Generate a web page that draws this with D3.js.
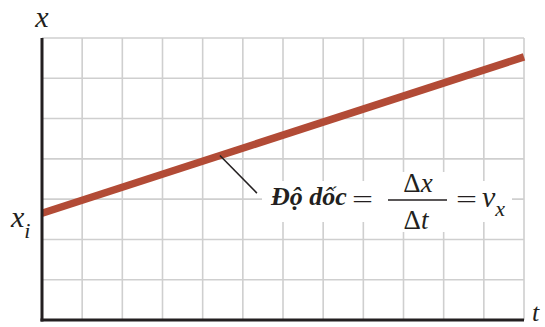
<!DOCTYPE html>
<html>
<head>
<meta charset="utf-8">
<script src="https://cdn.jsdelivr.net/npm/d3@7"></script>
</head>
<body style="margin:0;background:#fff">
<svg id="fig" width="545" height="327" style="display:block"></svg>
<script>
// ---- data ----
const tValues = [0, 12];          // time at the two ends of the line
const xValues = [2.65, 6.53];     // position at the two ends of the line
const tTicks = d3.range(0, 13);   // vertical grid lines
const xTicks = d3.range(0, 8);    // horizontal grid lines
const leaderFrom = [4.43, 0];     // t on the line where the leader starts
const leaderTo = [5.35, 3.15];    // (t, x) where the leader ends
const labelText = "Độ dốc";
const axisLabelY = "x";
const axisLabelX = "t";
const interceptLabel = ["x", "i"];

// ---- layout ----
const W = 545, H = 327;
const FONT = "Liberation Serif";
const INK = "#231f20";
const m = { left: 42, right: 21, top: 38, bottom: 7 };
const svg = d3.select("#fig");

const tScale = d3.scaleLinear().domain([0, 12]).range([m.left, W - m.right]);
const xScale = d3.scaleLinear().domain([0, 7]).range([H - m.bottom, m.top]);

const lineAt = t => xValues[0] + (xValues[1] - xValues[0]) * (t - tValues[0]) / (tValues[1] - tValues[0]);

function txt(x, y, size) {
  return svg.append("text")
    .attr("x", x).attr("y", y)
    .attr("font-family", FONT)
    .style("font-family", FONT, "important")
    .attr("font-size", size)
    .attr("fill", INK);
}

// grid
const grid = svg.append("g").attr("stroke", "#cfcfcf").attr("stroke-width", 1.6);
grid.selectAll("line.v").data(tTicks.slice(1)).join("line")
  .attr("x1", d => tScale(d)).attr("x2", d => tScale(d))
  .attr("y1", xScale(0)).attr("y2", xScale(7));
grid.selectAll("line.h").data(xTicks.slice(1)).join("line")
  .attr("x1", tScale(0)).attr("x2", tScale(12))
  .attr("y1", d => xScale(d)).attr("y2", d => xScale(d));

// data line
const line = d3.line().x(d => tScale(d[0])).y(d => xScale(d[1]));
svg.append("path")
  .datum(tValues.map((t, i) => [t, xValues[i]]))
  .attr("d", line)
  .attr("fill", "none")
  .attr("stroke", "#b24b36")
  .attr("stroke-width", 7.5);

// axes
svg.append("line")
  .attr("x1", tScale(0)).attr("x2", tScale(0))
  .attr("y1", xScale(7)).attr("y2", xScale(0) + 1.5)
  .attr("stroke", INK).attr("stroke-width", 3);
svg.append("line")
  .attr("x1", tScale(0) - 1.5).attr("x2", tScale(12))
  .attr("y1", xScale(0)).attr("y2", xScale(0))
  .attr("stroke", INK).attr("stroke-width", 3);

// white box behind slope label
svg.append("rect")
  .attr("x", 262).attr("y", 181).attr("width", 250).attr("height", 41)
  .attr("fill", "#fff");
svg.append("rect")
  .attr("x", 384).attr("y", 172).attr("width", 66).attr("height", 60)
  .attr("fill", "#fff");

// leader line
svg.append("line")
  .attr("x1", tScale(leaderFrom[0])).attr("y1", xScale(lineAt(leaderFrom[0])))
  .attr("x2", tScale(leaderTo[0])).attr("y2", xScale(leaderTo[1]))
  .attr("stroke", INK).attr("stroke-width", 1.5);

// slope label
txt(271, 205, 26)
  .attr("font-weight", "bold").attr("font-style", "italic")
  .text(labelText);
txt(352, 208, 26)
  .attr("textLength", 21).attr("lengthAdjust", "spacingAndGlyphs")
  .text("=");
svg.append("line")
  .attr("x1", 388).attr("x2", 447).attr("y1", 200).attr("y2", 200)
  .attr("stroke", INK).attr("stroke-width", 1.6);
const num = txt(418, 192, 27).attr("text-anchor", "middle");
num.append("tspan").text("Δ");
num.append("tspan").attr("font-style", "italic").text("x");
const den = txt(416, 229, 27).attr("text-anchor", "middle");
den.append("tspan").text("Δ");
den.append("tspan").attr("font-style", "italic").text("t");
txt(456, 208, 26)
  .attr("textLength", 21).attr("lengthAdjust", "spacingAndGlyphs")
  .text("=");
const vx = txt(482, 207, 30).attr("font-style", "italic");
vx.append("tspan").text("v");
vx.append("tspan").attr("font-size", 22).attr("dy", 9).text("x");

// axis labels
txt(tScale(0), 27, 30).attr("text-anchor", "middle")
  .attr("font-style", "italic").text(axisLabelY);
txt(W - 13, 321, 26)
  .attr("font-style", "italic").text(axisLabelX);
const xi = txt(11, 227, 30).attr("font-style", "italic");
xi.append("tspan").text(interceptLabel[0]);
xi.append("tspan").attr("font-size", 22).attr("dy", 11).text(interceptLabel[1]);
</script>
</body>
</html>
